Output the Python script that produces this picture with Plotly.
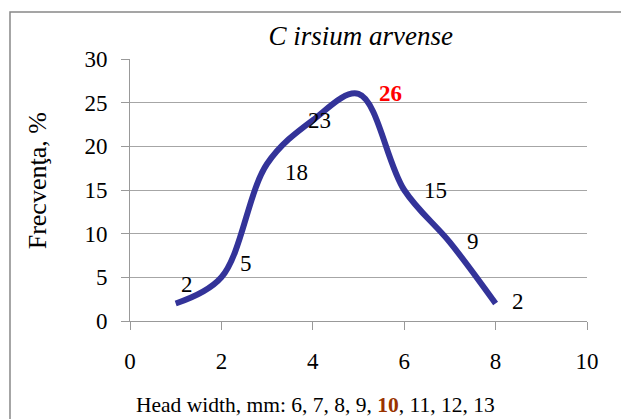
import plotly.graph_objects as go

# head width classes (plotted on 1..8) and frequency, %
x_vals = [1, 2, 3, 4, 5, 6, 7, 8]
freq = [2, 5, 18, 23, 26, 15, 9, 2]
label_txt = ['2', '5', '18', '23', '<b>26</b>', '15', '9', '2']
label_col = ['black', 'black', 'black', 'black', 'red', 'black', 'black', 'black']
# pixel shifts of the data labels
label_dx = [11, 25, 29, 7, 32, 31, 23, 22]
label_dy = [19, 14, -9, 0, 0, 0, 1, 2]

serif = 'Liberation Serif'

fig = go.Figure()
fig.add_trace(go.Scatter(x=x_vals, y=freq, mode='lines',
                         line=dict(color='#333399', width=6, shape='spline', smoothing=1.0),
                         hoverinfo='skip', showlegend=False))

annots = []
for xv, yv, t, c, dx, dy in zip(x_vals, freq, label_txt, label_col, label_dx, label_dy):
    annots.append(dict(x=xv, y=yv, text=t, showarrow=False, xshift=dx, yshift=dy,
                       font=dict(family=serif, size=23, color=c)))

# y axis title
annots.append(dict(x=-0.203, y=0.534, xref='paper', yref='paper', text='Frecvenţa, %',
                   xanchor='center', yanchor='middle', textangle=-90, showarrow=False,
                   font=dict(family=serif, size=26, color='black')))
# footnote
annots.append(dict(x=0.009, y=-0.32, xref='paper', yref='paper', xanchor='left', yanchor='middle',
                   text='Head width, mm: 6, 7, 8, 9, <b><span style="color:#993300">10</span></b>, 11, 12, 13',
                   showarrow=False, font=dict(family=serif, size=21.5, color='black')))

# page body has an 8px margin, so the figure is made 8px smaller
fig.update_layout(
    width=621, height=411,
    margin=dict(l=122, r=42, t=51, b=98),
    paper_bgcolor='white', plot_bgcolor='white',
    title=dict(text='<i>C irsium arvense</i>', x=0.568, xanchor='center',
               y=1 - 28 / 411, yanchor='middle', yref='container',
               font=dict(family=serif, size=27, color='black')),
    xaxis=dict(range=[0, 10], dtick=2, showgrid=False, zeroline=False, automargin=False,
               showline=True, linecolor='#999999', linewidth=1,
               ticks='outside', ticklen=8, tickcolor='#999999', ticklabelstandoff=11,
               tickfont=dict(family=serif, size=23, color='black')),
    yaxis=dict(range=[0, 30], dtick=5, showgrid=True, gridcolor='#a6a6a6', gridwidth=1,
               zeroline=False, showline=True, linecolor='#999999', linewidth=1, automargin=False,
               ticks='outside', ticklen=8, tickcolor='#999999', ticklabelstandoff=9,
               tickfont=dict(family=serif, size=23, color='black')),
    annotations=annots,
    shapes=[dict(type='rect', xref='paper', yref='paper', x0=-0.2626, x1=3, y0=-3, y1=1.179,
                 line=dict(color='#888888', width=1.5), fillcolor='rgba(0,0,0,0)')],
)

fig.write_html("out.html")
